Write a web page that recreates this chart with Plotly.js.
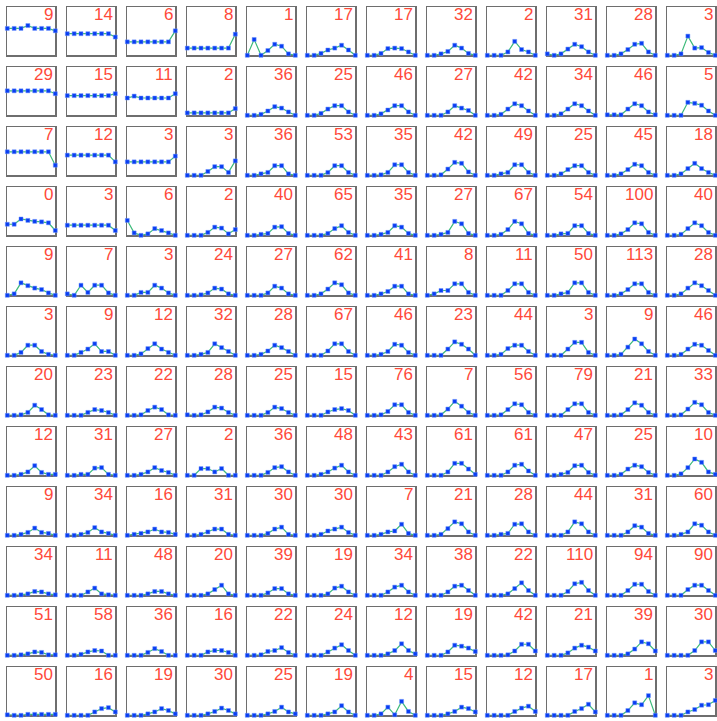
<!DOCTYPE html>
<html>
<head>
<meta charset="utf-8">
<script src="https://cdn.plot.ly/plotly-3.0.1.min.js"></script>
<style>html,body{margin:0;padding:0;background:#fff;}#chart{width:717px;height:721px;}</style>
</head>
<body>
<div id="chart"></div>
<script>
// x positions shared by every panel
const steps = [0, 1, 2, 3, 4, 5, 6, 7];

// red numbers, one row of 12 panels per array
const labels0 = ["9","14","6","8","1","17","17","32","2","31","28","3"];
const labels1 = ["29","15","11","2","36","25","46","27","42","34","46","5"];
const labels2 = ["7","12","3","3","36","53","35","42","49","25","45","18"];
const labels3 = ["0","3","6","2","40","65","35","27","67","54","100","40"];
const labels4 = ["9","7","3","24","27","62","41","8","11","50","113","28"];
const labels5 = ["3","9","12","32","28","67","46","23","44","3","9","46"];
const labels6 = ["20","23","22","28","25","15","76","7","56","79","21","33"];
const labels7 = ["12","31","27","2","36","48","43","61","61","47","25","10"];
const labels8 = ["9","34","16","31","30","30","7","21","28","44","31","60"];
const labels9 = ["34","11","48","20","39","19","34","38","22","110","94","90"];
const labels10 = ["51","58","36","16","22","24","12","19","42","21","39","30"];
const labels11 = ["50","16","19","30","25","19","4","15","12","17","1","3"];

// series values (relative height in panel), per row
const row0 = [
 [0.56,0.56,0.56,0.62,0.56,0.56,0.56,0.51],
 [0.45,0.45,0.45,0.45,0.45,0.45,0.45,0.38],
 [0.28,0.28,0.28,0.28,0.28,0.28,0.28,0.51],
 [0.15,0.15,0.15,0.15,0.15,0.15,0.15,0.44],
 [0,0.33,0,0.1,0.23,0.19,0.03,0],
 [0,0,0.04,0.11,0.15,0.21,0.11,0],
 [0,0,0.04,0.14,0.15,0.14,0.07,0],
 [0,0,0.03,0.08,0.21,0.15,0.04,0],
 [0,0,0,0.07,0.29,0.12,0.07,0],
 [0.03,0,0.03,0.13,0.23,0.18,0.07,0],
 [0,0,0.03,0.12,0.23,0.25,0.07,0],
 [0,0,0.03,0.4,0.15,0.16,0.06,0]
];
const row1 = [
 [0.51,0.51,0.51,0.51,0.51,0.51,0.51,0.45],
 [0.41,0.41,0.41,0.41,0.41,0.41,0.41,0.45],
 [0.36,0.4,0.36,0.36,0.36,0.36,0.36,0.45],
 [0.05,0.05,0.05,0.05,0.05,0.05,0.05,0.14],
 [0,0,0.02,0.09,0.18,0.15,0.07,0],
 [0,0,0.04,0.13,0.2,0.2,0.07,0],
 [0,0,0.03,0.11,0.2,0.2,0.07,0],
 [0,0,0,0.07,0.2,0.15,0.1,0],
 [0,0,0.02,0.13,0.24,0.2,0.09,0],
 [0,0,0.03,0.13,0.24,0.2,0.09,0],
 [0.01,0.01,0.01,0.13,0.24,0.2,0.07,0.01],
 [0,0,0,0.27,0.25,0.21,0.09,0]
];
const row2 = [
 [0.49,0.49,0.49,0.49,0.49,0.49,0.49,0.21],
 [0.42,0.42,0.42,0.42,0.42,0.42,0.42,0.28],
 [0.28,0.28,0.28,0.28,0.28,0.28,0.28,0.4],
 [0,0,0,0.08,0.18,0.18,0.06,0.3],
 [0,0,0.03,0.06,0.2,0.2,0.03,0],
 [0,0,0,0.06,0.2,0.2,0.06,0],
 [0,0,0.01,0.06,0.22,0.22,0.06,0],
 [0,0,0.01,0.13,0.27,0.25,0.07,0],
 [0,0,0.03,0.06,0.22,0.22,0.06,0],
 [0,0,0.03,0.12,0.2,0.2,0.06,0],
 [0,0,0.03,0.12,0.23,0.2,0.06,0],
 [0,0,0.03,0.14,0.25,0.14,0.06,0]
];
const row3 = [
 [0.23,0.23,0.34,0.31,0.29,0.28,0.26,0.1],
 [0.21,0.21,0.21,0.21,0.21,0.21,0.21,0.1],
 [0.31,0.05,0,0.03,0.14,0.1,0.05,0],
 [0,0,0,0.06,0.17,0.15,0.03,0.12],
 [0,0,0.02,0.04,0.17,0.18,0.04,0],
 [0,0,0,0.04,0.14,0.2,0.06,0],
 [0,0,0.02,0.06,0.2,0.17,0.04,0],
 [0,0,0.02,0.06,0.29,0.24,0.04,0],
 [0,0,0.02,0.12,0.29,0.24,0.04,0],
 [0,0,0.03,0.04,0.2,0.2,0.04,0],
 [0,0,0.03,0.12,0.26,0.24,0.06,0],
 [0,0,0.02,0.14,0.26,0.2,0.06,0]
];
const row4 = [
 [0,0.03,0.26,0.2,0.15,0.12,0.05,0],
 [0.03,0,0.21,0.06,0.21,0.21,0.05,0],
 [0,0,0.06,0.06,0.21,0.15,0.05,0],
 [0,0,0.01,0.05,0.15,0.13,0.03,0],
 [0,0,0,0.05,0.19,0.15,0.03,0],
 [0,0,0.03,0.13,0.26,0.22,0.05,0],
 [0,0,0.03,0.08,0.19,0.19,0.03,0],
 [0,0.03,0.1,0.1,0.24,0.24,0.06,0],
 [0,0,0,0.1,0.24,0.24,0.06,0],
 [0,0,0.03,0.06,0.26,0.26,0.06,0],
 [0,0,0.03,0.12,0.24,0.24,0.06,0],
 [0,0,0.03,0.15,0.26,0.2,0.1,0]
];
const row5 = [
 [0,0,0.06,0.21,0.21,0.08,0.02,0],
 [0,0,0.06,0.13,0.24,0.08,0.08,0],
 [0,0,0.03,0.14,0.24,0.13,0.06,0],
 [0,0,0.02,0.06,0.24,0.16,0.08,0],
 [0,0,0.02,0.09,0.21,0.16,0.08,0],
 [0,0,0,0.09,0.24,0.24,0.08,0],
 [0,0,0.02,0.08,0.23,0.21,0.06,0],
 [0,0,0,0.13,0.28,0.23,0.13,0],
 [0,0,0.02,0.14,0.21,0.21,0.08,0],
 [0,0,0,0.13,0.27,0.27,0.06,0],
 [0,0,0.02,0.17,0.34,0.24,0.08,0],
 [0,0,0.02,0.13,0.23,0.21,0.1,0]
];
const row6 = [
 [0,0,0.01,0.06,0.21,0.12,0.01,0],
 [0,0,0,0.06,0.12,0.1,0.06,0],
 [0,0,0.01,0.1,0.17,0.12,0.01,0],
 [0.01,0,0.01,0.07,0.17,0.15,0.06,0],
 [0,0,0,0.06,0.17,0.14,0.06,0],
 [0,0,0,0.07,0.12,0.14,0.1,0],
 [0,0,0.01,0.08,0.22,0.22,0.06,0],
 [0,0,0.01,0.13,0.29,0.19,0.06,0],
 [0,0,0.01,0.12,0.24,0.22,0.06,0],
 [0,0,0,0.12,0.24,0.24,0.06,0],
 [0,0,0.01,0.12,0.26,0.21,0.06,0],
 [0,0,0.01,0.13,0.27,0.22,0.06,0]
];
const row7 = [
 [0,0,0.02,0.07,0.2,0.06,0.02,0.02],
 [0,0,0.02,0.02,0.15,0.16,0.02,0],
 [0,0,0.02,0.07,0.16,0.1,0.06,0],
 [0,0,0.14,0.14,0.07,0.14,0,0],
 [0,0,0,0.06,0.16,0.18,0.07,0],
 [0,0,0.02,0.07,0.15,0.21,0.07,0],
 [0,0,0,0.07,0.18,0.23,0.07,0],
 [0,0,0,0.07,0.25,0.25,0.13,0.02],
 [0,0,0,0.07,0.21,0.23,0.09,0],
 [0,0,0.02,0.06,0.2,0.21,0.06,0],
 [0,0,0.02,0.13,0.21,0.18,0.06,0],
 [0,0,0.03,0.16,0.34,0.27,0.07,0.02]
];
const row8 = [
 [0,0,0.02,0.06,0.15,0.06,0.04,0],
 [0,0,0.02,0.06,0.16,0.07,0.04,0],
 [0,0.02,0.04,0.07,0.13,0.07,0.06,0.02],
 [0,0,0.02,0.07,0.13,0.13,0.02,0],
 [0,0,0,0.04,0.13,0.17,0.02,0],
 [0,0,0.02,0.09,0.13,0.17,0.06,0],
 [0,0,0.02,0.07,0.09,0.23,0.04,0],
 [0,0,0.02,0.14,0.28,0.24,0.07,0],
 [0,0,0.02,0.04,0.23,0.24,0.07,0],
 [0,0,0,0.07,0.28,0.24,0.07,0],
 [0,0,0,0.07,0.2,0.17,0.04,0],
 [0,0,0.02,0.07,0.24,0.21,0.07,0]
];
const row9 = [
 [0,0,0.01,0.03,0.08,0.07,0.03,0.01],
 [0,0,0,0.07,0.15,0.03,0.01,0],
 [0,0,0,0.03,0.08,0.08,0.03,0],
 [0,0,0,0.03,0.12,0.21,0.03,0],
 [0,0,0,0.05,0.14,0.14,0.03,0],
 [0,0,0,0.03,0.15,0.19,0.07,0],
 [0,0,0,0.07,0.17,0.21,0.07,0],
 [0,0,0,0.07,0.19,0.21,0.1,0],
 [0,0,0,0.03,0.14,0.26,0.1,0],
 [0,0,0,0.08,0.24,0.27,0.1,0],
 [0,0,0,0.1,0.23,0.23,0.08,0],
 [0,0,0,0.12,0.21,0.21,0.1,0]
];
const row10 = [
 [0,0,0.01,0.03,0.07,0.06,0.01,0.01],
 [0,0,0.02,0.07,0.1,0.09,0,0],
 [0,0,0,0.06,0.14,0.08,0,0],
 [0,0,0,0.07,0.1,0.1,0.06,0],
 [0,0,0.01,0.08,0.1,0.16,0.06,0],
 [0,0,0,0.07,0.15,0.22,0.1,0],
 [0,0,0,0.03,0.1,0.24,0.1,0.03],
 [0,0,0,0.07,0.21,0.19,0.15,0.08],
 [0,0,0,0.01,0.09,0.23,0.23,0.09],
 [0,0,0,0.05,0.15,0.21,0.17,0.09],
 [0,0,0,0.03,0.13,0.28,0.24,0.09],
 [0,0,0,0,0.1,0.28,0.28,0.1]
];
const row11 = [
 [0.01,0,0,0.02,0.02,0.02,0.02,0.02],
 [0,0,0,0,0.07,0.14,0.16,0.07],
 [0,0,0,0.03,0.07,0.14,0.1,0.03],
 [0,0,0,0.03,0.08,0.15,0.1,0.03],
 [0,0,0,0.03,0.08,0.17,0.07,0.03],
 [0,0,0,0.03,0.07,0.2,0.07,0],
 [0,0,0.03,0.17,0.01,0.29,0.08,0],
 [0,0,0,0.03,0.08,0.17,0.14,0.07],
 [0,0,0,0,0.08,0.15,0.19,0.08],
 [0,0,0,0,0.08,0.14,0.23,0.07],
 [0,0,0,0.1,0.26,0.22,0.41,0],
 [0,0,0,0.07,0.12,0.21,0.22,0.31]
];

const rows = [row0,row1,row2,row3,row4,row5,row6,row7,row8,row9,row10,row11];
const labelRows = [labels0,labels1,labels2,labels3,labels4,labels5,labels6,labels7,labels8,labels9,labels10,labels11];

const W = 717, H = 721, PITCH = 60, OFF = 7.3, BOX = 48;
const traces = [];
const layout = {
  width: W, height: H,
  margin: {l:0, r:0, t:0, b:0, pad:0},
  paper_bgcolor: '#fff', plot_bgcolor: 'rgba(0,0,0,0)',
  showlegend: false,
  annotations: []
};

rows.forEach((row, r) => {
  row.forEach((vals, c) => {
    const k = r * 12 + c + 1;
    const xa = k === 1 ? 'xaxis' : 'xaxis' + k;
    const ya = k === 1 ? 'yaxis' : 'yaxis' + k;
    const xr = k === 1 ? 'x' : 'x' + k;
    const yr = k === 1 ? 'y' : 'y' + k;
    const left = OFF + PITCH * c, top = OFF + PITCH * r;
    const axBase = {
      showgrid: false, zeroline: false, showticklabels: false, ticks: '',
      showline: true, mirror: true, linecolor: '#6e6e6e', linewidth: 1.5,
      layer: 'below traces', fixedrange: true
    };
    layout[xa] = Object.assign({}, axBase, {
      domain: [left / W, (left + BOX) / W], range: [0, 7], anchor: yr
    });
    layout[ya] = Object.assign({}, axBase, {
      domain: [1 - (top + BOX) / H, 1 - top / H], range: [0, 1], anchor: xr
    });
    traces.push({
      type: 'scatter', mode: 'lines+markers',
      x: steps, y: vals, xaxis: xr, yaxis: yr,
      cliponaxis: false, hoverinfo: 'skip',
      line: {color: '#3cba7a', width: 1.2},
      marker: {symbol: 'square', size: 4, color: '#0a3ef2',
               line: {width: 0.8, color: 'rgba(110,150,255,0.6)'}}
    });
    layout.annotations.push({
      xref: 'paper', yref: 'paper',
      x: (left + BOX - 1.5) / W, y: 1 - top / H,
      xanchor: 'right', yanchor: 'top', yshift: 3,
      showarrow: false, text: labelRows[r][c],
      font: {family: 'Liberation Sans, Arial, sans-serif', size: 17, color: '#ff4a3a'},
      borderpad: 0
    });
  });
});

Plotly.newPlot('chart', traces, layout, {staticPlot: true, displayModeBar: false});
</script>
</body>
</html>
